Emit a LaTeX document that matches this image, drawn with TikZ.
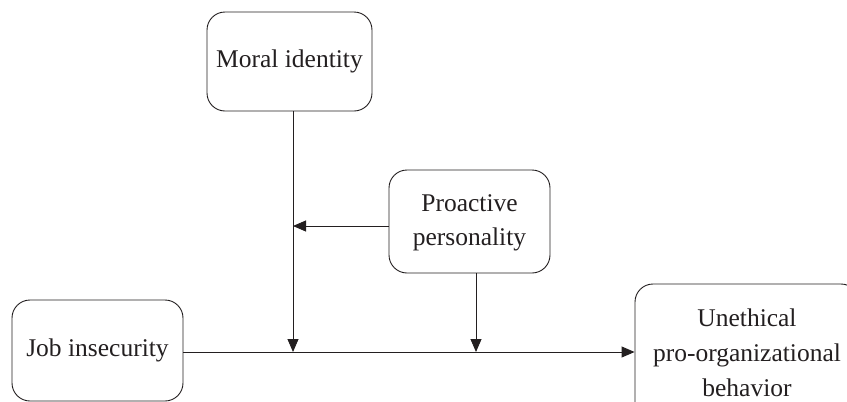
\documentclass[tikz,border=0pt]{standalone}
\usepackage{fontspec}
\setmainfont{Liberation Serif}
\usetikzlibrary{arrows.meta}
\definecolor{ink}{HTML}{231F20}
\begin{document}
\begin{tikzpicture}[x=1pt,y=-1pt,
  box/.style={draw=ink, line width=0.9pt, rounded corners=18pt, inner sep=0pt,
    text=ink, align=center, font=\fontsize{25.5}{35}\selectfont},
  conn/.style={draw=ink, line width=0.9pt},
  arr/.style={conn, -{Triangle[length=13pt,width=11pt]}}]
\useasboundingbox (0,0) rectangle (847,402);
\clip (0,0) rectangle (847,402);
\node[box, minimum width=171pt, minimum height=101pt] (job) at (97.5,350.5)
  {\raisebox{-7pt}{Job insecurity}};
\node[box, minimum width=165pt, minimum height=99pt] (moral) at (289.5,61.5)
  {\raisebox{-9pt}{Moral identity}};
\node[box, minimum width=161pt, minimum height=103pt] (pro) at (469.5,221.5)
  {\raisebox{-5pt}{\begin{tabular}{@{}c@{}}Proactive\\[-1pt]personality\end{tabular}}};
\node[box, minimum width=224pt, minimum height=138pt] (upb) at (747,353)
  {Unethical\\pro-organizational\\behavior};
\coordinate (m1) at (293,352);
\coordinate (p1) at (293,226);
\coordinate (p2) at (476,352);
\draw[arr] (job.east |- m1) -- (upb.west |- m1);
\draw[arr] (moral.south -| m1) -- (m1);
\draw[arr] (pro.west |- p1) -- (p1);
\draw[arr] (pro.south -| p2) -- (p2);
\end{tikzpicture}
\end{document}
